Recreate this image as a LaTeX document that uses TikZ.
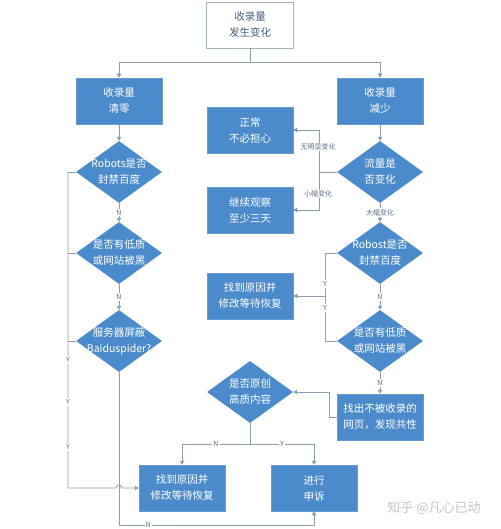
\documentclass[tikz,border=0pt]{standalone}
\usepackage{fontspec}
\setmainfont{Noto Sans CJK SC}
\usetikzlibrary{shapes.geometric,arrows.meta,calc}
\definecolor{boxblue}{HTML}{4C8BCB}
\definecolor{linegray}{HTML}{8C9DB2}
\definecolor{topborder}{HTML}{A7B0BE}
\definecolor{toptext}{HTML}{45607F}
\definecolor{lbl}{HTML}{5E7088}
\definecolor{wm}{HTML}{C4C4C4}
\begin{document}
\begin{tikzpicture}[x=1pt,y=-1pt,
  bluebox/.style={rectangle, fill=boxblue, draw=boxblue!85!white, line width=0.5pt, minimum width=86pt, minimum height=46pt, inner sep=0pt, text=white, font=\fontsize{10.5}{16}\selectfont, align=center},
  topbox/.style={rectangle, fill=white, draw=topborder, line width=0.7pt, minimum width=87pt, minimum height=46pt, inner sep=0pt, text=toptext, font=\fontsize{10.5}{16}\selectfont, align=center},
  dia/.style={diamond, fill=boxblue, minimum width=86pt, minimum height=62pt, inner sep=0pt},
  dtext/.style={text=white, font=\fontsize{10.5}{16}\selectfont, align=center, inner sep=0pt},
  conn/.style={draw=linegray, line width=0.8pt},
  arr/.style={conn, -{Triangle[width=4.5pt,length=4pt]}},
  lbltext/.style={font=\fontsize{7}{8}\selectfont, text=lbl, fill=white, inner sep=1pt}
]
\useasboundingbox (0,0) rectangle (500,529);
% nodes
\node[topbox] (top) at (250,25) {收录量\\发生变化};
\node[bluebox] (b1) at (119,101) {收录量\\清零};
\node[bluebox] (b2) at (380,101) {收录量\\减少};
\node[dia, label={[dtext]center:{Robots是否\\封禁百度}}] (d1) at (119,172) {};
\node[dia, label={[dtext]center:{是否有低质\\或网站被黑}}] (d2) at (119,253) {};
\node[dia, label={[dtext]center:{服务器屏蔽\\Baiduspider?}}] (d3) at (119,341) {};
\node[bluebox] (bf1) at (182,488) {找到原因并\\修改等待恢复};
\node[bluebox] (ap) at (314,488) {进行\\申诉};
\node[dia, label={[dtext]center:{是否原创\\高质内容}}] (d4) at (250,392) {};
\node[bluebox] (bfind) at (380,417) {找出不被收录的\\网页，发现共性};
\node[bluebox] (nc) at (250,130) {正常\\不必担心};
\node[bluebox] (obs) at (250,210) {继续观察\\至少三天};
\node[dia, label={[dtext]center:{流量是\\否变化}}] (e1) at (380,172) {};
\node[dia, label={[dtext]center:{Robost是否\\封禁百度}}] (e2) at (380,253) {};
\node[dia, label={[dtext]center:{是否有低质\\或网站被黑}}] (e3) at (380,341) {};
\node[bluebox] (bf2) at (250,296) {找到原因并\\修改等待恢复};
\node[font=\fontsize{13}{14}\selectfont, text=wm] (wmk) at (434,508) {知乎 @凡心已动};
% coordinates
\coordinate (tsplit) at (250,62);
\coordinate (cL) at (68,172);
\coordinate (hop) at (119,488);
\coordinate (cB) at (119,525);
\coordinate (cM) at (250,444);
\coordinate (cF) at (329,417);
\coordinate (cE) at (319,172);
\coordinate (cR) at (325,253);
% top split
\draw[conn] (top.south) -- (tsplit);
\draw[arr] (tsplit) -| (b1.north);
\draw[arr] (tsplit) -| (b2.north);
% left column
\draw[arr] (b1.south) -- (d1.north);
\draw[arr] (d1.south) -- node[lbltext]{N} (d2.north);
\draw[arr] (d2.south) -- node[lbltext]{N} (d3.north);
\draw[conn] (d1.west) -- (cL);
\draw[conn] (d2.west) -- (d2.west -| cL);
\draw[conn] (d3.west) -- (d3.west -| cL);
\draw[arr] (cL) -- (cL |- bf1.west) -- ($(hop)+(-3,0)$) .. controls +(0,-4) and +(0,-4) .. ($(hop)+(3,0)$) -- (bf1.west);
\node[lbltext] (y1) at (68,360) {Y};
\node[lbltext] (y2) at (68,402) {Y};
\node[lbltext] (y3) at (68,447) {Y};
\draw[arr] (d3.south) -- (cB) -| node[lbltext, pos=0.075]{N} (ap.south);
% middle bottom
\draw[conn] (d4.south) -- (cM);
\draw[arr] (cM) -| node[lbltext, pos=0.25]{N} (bf1.north);
\draw[arr] (cM) -| node[lbltext, pos=0.25]{Y} (ap.north);
\draw[arr] (bfind.west) -- (cF) |- (d4.east);
% right column
\draw[arr] (b2.south) -- (e1.north);
\draw[conn] (e1.west) -- (cE);
\draw[arr] (cE) |- (nc.east);
\draw[arr] (cE) |- (obs.east);
\node[lbltext] (l1) at (318,147) {无明显变化};
\node[lbltext] (l2) at (318,194) {小幅变化};
\draw[arr] (e1.south) -- node[lbltext]{大幅变化} (e2.north);
\draw[arr] (e2.south) -- node[lbltext]{N} (e3.north);
\draw[arr] (e3.south) -- node[lbltext]{N} (bfind.north);
\draw[conn] (e2.west) -- (cR) -- (cR |- e3.west) -- (e3.west);
\draw[arr] (cR |- bf2.east) -- (bf2.east);
\node[lbltext] (y4) at (325,284) {Y};
\node[lbltext] (y5) at (325,308) {Y};
\end{tikzpicture}
\end{document}
